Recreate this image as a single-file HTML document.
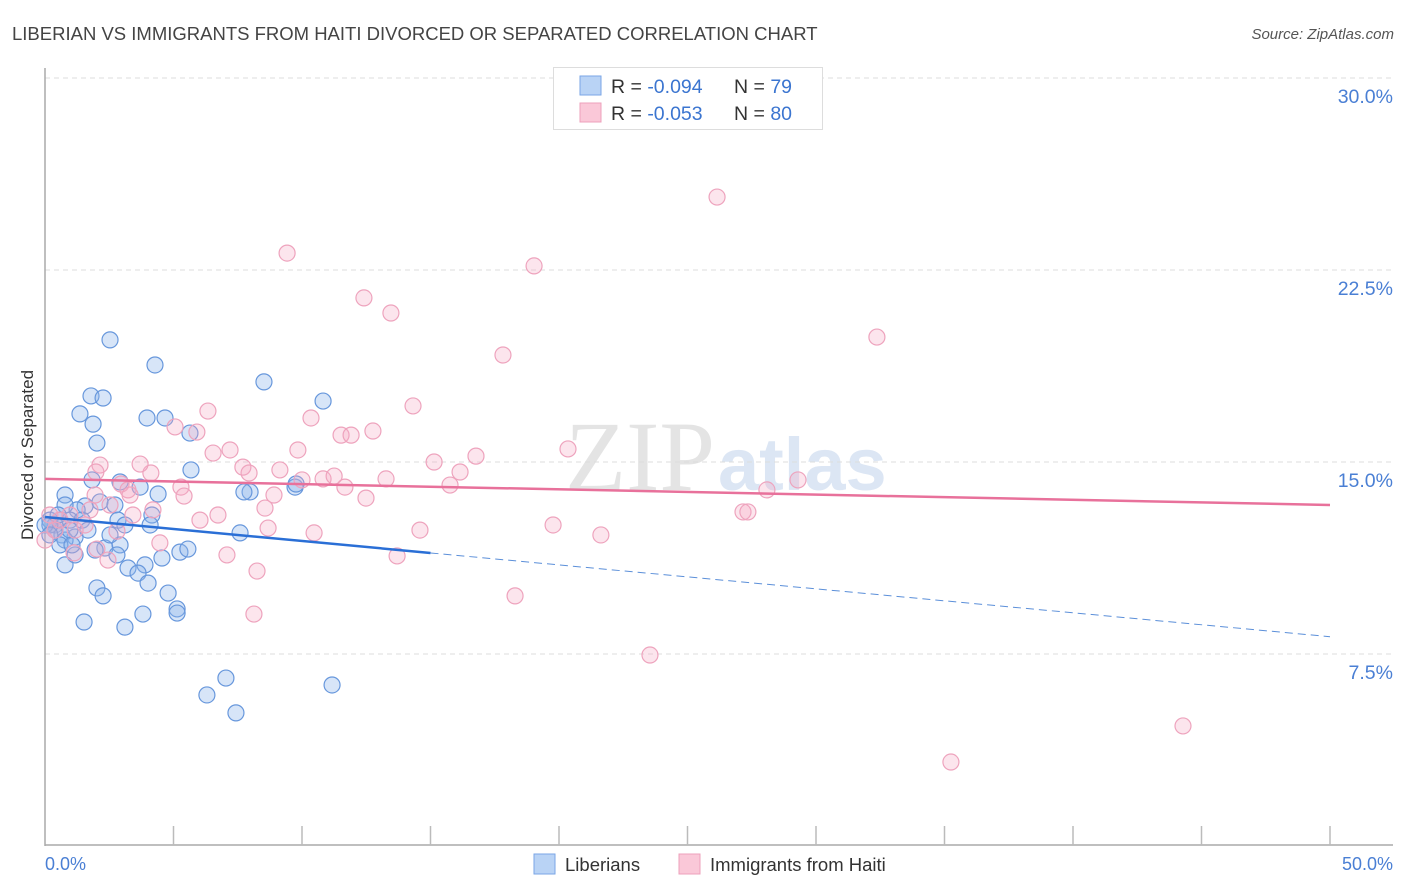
<!DOCTYPE html>
<html><head><meta charset="utf-8">
<style>
body{margin:0;background:#fff;font-family:"Liberation Sans",sans-serif;}
#wrap{position:relative;width:1406px;height:892px;overflow:hidden;}
</style></head>
<body>
<div id="wrap">
<svg id="chart" width="1406" height="892">
<text x="12" y="40" font-size="18.5" fill="#444">LIBERIAN VS IMMIGRANTS FROM HAITI DIVORCED OR SEPARATED CORRELATION CHART</text>
<text x="1394" y="39" font-size="15" fill="#555" font-style="italic" text-anchor="end">Source: ZipAtlas.com</text>
<text x="715" y="490" font-size="100" fill="#e4e4e4" text-anchor="end" font-family="Liberation Serif,serif">ZIP</text>
<text x="718" y="490" font-size="74" fill="#dce6f4" font-weight="bold">atlas</text>
<g id="grid"></g>
<line x1="45" y1="68" x2="45" y2="846" stroke="#aaa" stroke-width="1.5"/>
<line x1="45" y1="845" x2="1393" y2="845" stroke="#aaa" stroke-width="1.5"/>
<g id="ticks"></g>
<g id="pts"></g>
<g id="trend"></g>
<text transform="translate(33,455) rotate(-90)" font-size="17" fill="#333" text-anchor="middle">Divorced or Separated</text>
<text x="45" y="870" font-size="18" fill="#4a7fd4">0.0%</text>
<text x="1393" y="870" font-size="18" fill="#4a7fd4" text-anchor="end">50.0%</text>
<g>
<rect x="553.5" y="67.5" width="269" height="62" fill="#fff" stroke="#ddd"/>
<rect x="580" y="76" width="21" height="19" fill="#b9d3f5" stroke="#7aa6e6"/>
<rect x="580" y="103" width="21" height="19" fill="#fac8d8" stroke="#eda0bb"/>
<text x="611" y="93" font-size="19.5" fill="#333">R = <tspan fill="#3b75d0">-0.094</tspan><tspan x="734">N = </tspan><tspan fill="#3b75d0">79</tspan></text>
<text x="611" y="120" font-size="19.5" fill="#333">R = <tspan fill="#3b75d0">-0.053</tspan><tspan x="734">N = </tspan><tspan fill="#3b75d0">80</tspan></text>
</g>
<g>
<rect x="534" y="854" width="21" height="20" fill="#b9d3f5" stroke="#7aa6e6"/>
<text x="565" y="871" font-size="18.5" fill="#333">Liberians</text></g>
<g>
<rect x="679" y="854" width="21" height="20" fill="#fac8d8" stroke="#eda0bb"/>
<text x="710" y="871" font-size="18.5" fill="#333">Immigrants from Haiti</text></g>
</svg>
</div>
<script>
const yTicks=[7.5,15,22.5,30];
const yTickLabels=["7.5%","15.0%","22.5%","30.0%"];
const xTicks=[5,10,15,20,25,30,35,40,45,50];
const blueX=[2.53,4.28,8.52,10.82,1.79,2.26,1.36,1.87,3.97,4.67,2.02,5.64,5.68,1.83,0.78,2.92,3.7,4.4,7.98,7.74,9.73,9.77,1.56,2.14,2.72,1.25,0.78,0.58,0.19,0.39,0.97,1.44,2.84,4.16,4.09,0.39,0.66,1.17,0.78,7.59,2.33,2.92,2.8,5.25,5.56,0.78,1.17,4.55,3.89,3.23,3.62,4.01,2.02,2.26,4.79,5.14,5.14,3.81,1.52,3.11,7.04,6.3,7.43,11.17,0.19,0.0,0.51,0.97,1.67,1.95,0.58,1.05,0.19,2.53,3.11];
const blueY=[19.77,18.79,18.13,17.38,17.58,17.5,16.88,16.48,16.72,16.72,15.74,16.13,14.69,14.3,13.71,14.22,14.02,13.75,13.83,13.83,14.02,14.14,13.28,13.44,13.32,13.13,13.32,12.73,12.73,12.54,12.73,12.73,12.73,12.93,12.54,12.34,12.15,12.07,11.95,12.23,11.64,11.76,11.37,11.48,11.6,10.98,11.37,11.25,10.98,10.86,10.66,10.27,10.08,9.77,9.88,9.26,9.1,9.06,8.75,8.55,6.56,5.9,5.2,6.29,12.54,12.54,12.93,12.34,12.34,11.56,11.76,11.76,12.15,12.15,12.54];
const pinkX=[26.15,9.42,19.03,12.41,13.46,32.37,17.82,14.32,6.34,5.06,5.91,12.76,10.35,11.52,11.91,20.35,7.2,6.54,9.84,16.77,15.14,16.15,2.14,1.98,4.12,7.7,7.94,3.7,2.96,5.29,9.14,10.0,10.82,11.25,13.27,11.67,15.76,29.3,28.09,5.41,3.23,8.91,12.49,8.56,6.73,3.42,4.2,19.77,27.16,27.35,14.59,21.63,8.68,10.47,4.47,7.08,2.02,2.8,2.45,1.13,13.7,8.25,18.29,8.13,23.54,44.28,35.25,1.17,0.39,0,0.58,1.56,2.53,1.75,0.97,0.19,3.31,6.03,1.95];
const pinkY=[25.35,23.16,22.66,21.41,20.82,19.88,19.18,17.19,16.99,16.37,16.17,16.21,16.72,16.05,16.05,15.51,15.47,15.35,15.47,15.23,15.0,14.61,14.88,14.61,14.57,14.8,14.57,14.92,14.14,14.02,14.69,14.3,14.34,14.45,14.34,14.02,14.1,14.3,13.91,13.67,13.91,13.71,13.59,13.2,12.93,12.93,13.13,12.54,13.05,13.05,12.34,12.15,12.42,12.23,11.84,11.37,11.6,12.3,11.17,11.45,11.33,10.74,9.77,9.06,7.46,4.69,3.28,12.34,12.34,11.95,12.73,12.54,13.32,13.13,12.93,12.93,13.71,12.73,13.71];
const blueTrend=[12.85,-0.0935];
const pinkTrend=[14.34,-0.0204];

const NS="http://www.w3.org/2000/svg";
const X0=45,XS=25.7,Y0=846,YS=25.6;
const xs=v=>X0+v*XS, ys=v=>Y0-v*YS;
function mk(tag,attrs,parent){const e=document.createElementNS(NS,tag);for(const k in attrs)e.setAttribute(k,attrs[k]);document.getElementById(parent).appendChild(e);return e;}
yTicks.forEach((t,i)=>{
  const l=mk('line',{x1:45,x2:1393,y1:ys(t),y2:ys(t),stroke:'#ddd','stroke-dasharray':'5,4'},'grid');
  
  
  const tx=mk('text',{x:1393,y:ys(t)+25,'font-size':19.5,fill:'#4a7fd4','text-anchor':'end'},'grid');
  tx.textContent=yTickLabels[i];
  
  
});
xTicks.forEach(t=>{
  const l=mk('line',{x1:xs(t),x2:xs(t),y1:826,y2:845,stroke:'#bbb','stroke-width':1.5},'ticks');
  
  
});
blueX.forEach((v,i)=>{
  const c=mk('circle',{cx:xs(v),cy:ys(blueY[i]),r:8,fill:'rgba(140,180,235,0.35)',stroke:'#6797dc','stroke-width':1.2},'pts');
  
  
});
pinkX.forEach((v,i)=>{
  const c=mk('circle',{cx:xs(v),cy:ys(pinkY[i]),r:8,fill:'rgba(245,170,195,0.3)',stroke:'#eea3bd','stroke-width':1.2},'pts');
  
  
});
const bf=x=>blueTrend[0]+blueTrend[1]*x, pf=x=>pinkTrend[0]+pinkTrend[1]*x;
let l=mk('line',{x1:xs(0),y1:ys(bf(0)),x2:xs(15),y2:ys(bf(15)),stroke:'#2a6fd6','stroke-width':2.5},'trend');


l=mk('line',{x1:xs(15),y1:ys(bf(15)),x2:xs(50),y2:ys(bf(50)),stroke:'#5b8fd9','stroke-width':1,'stroke-dasharray':'8,5'},'trend');


l=mk('line',{x1:xs(0),y1:ys(pf(0)),x2:xs(50),y2:ys(pf(50)),stroke:'#e8719b','stroke-width':2.5},'trend');


</script>
</body></html>
